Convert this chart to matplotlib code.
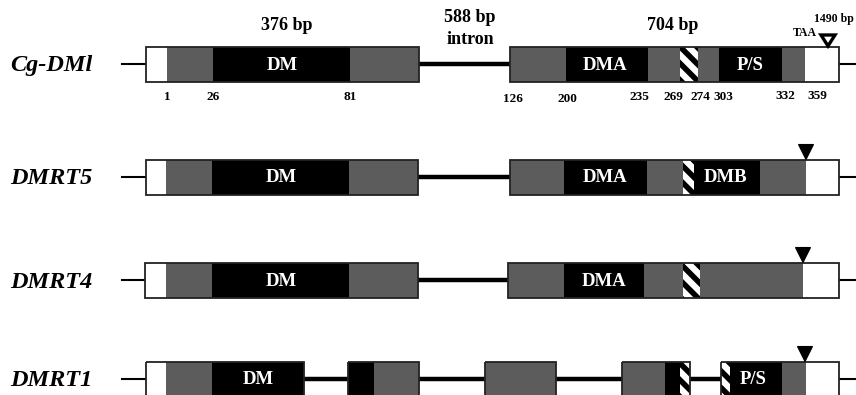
import matplotlib
matplotlib.use('Agg')
import matplotlib.pyplot as plt
from matplotlib.patches import Rectangle, Polygon

plt.rcParams['font.family'] = ['Liberation Serif', 'DejaVu Serif']
plt.rcParams['hatch.linewidth'] = 4.0

# gene rows, schematic positions (figure pixels along the gene)
genes = ['Cg-DMl', 'DMRT5', 'DMRT4', 'DMRT1']
row_y = [64, 177, 280, 379]

# segments: (start, end, kind)  kind: utr / cds / dom / hatch
segments = [
    [(146, 167, 'utr'), (167, 213, 'cds'), (213, 350, 'dom'), (350, 419, 'cds'),
     (510, 566, 'cds'), (566, 648, 'dom'), (648, 680, 'cds'), (680, 698, 'hatch'),
     (698, 719, 'cds'), (719, 782, 'dom'), (782, 805, 'cds'), (805, 839, 'utr')],
    [(146, 166, 'utr'), (166, 212, 'cds'), (212, 349, 'dom'), (349, 418, 'cds'),
     (510, 564, 'cds'), (564, 647, 'dom'), (647, 683, 'cds'), (683, 694, 'hatch'),
     (694, 760, 'dom'), (760, 806, 'cds'), (806, 839, 'utr')],
    [(145, 166, 'utr'), (166, 212, 'cds'), (212, 349, 'dom'), (349, 418, 'cds'),
     (508, 564, 'cds'), (564, 644, 'dom'), (644, 683, 'cds'), (683, 700, 'hatch'),
     (700, 803, 'cds'), (803, 839, 'utr')],
    [(146, 166, 'utr'), (166, 212, 'cds'), (212, 304, 'dom'),
     (348, 374, 'dom'), (374, 419, 'cds'),
     (485, 556, 'cds'),
     (622, 665, 'cds'), (665, 680, 'dom'), (680, 690, 'hatch'),
     (721, 730, 'hatch'), (730, 782, 'dom'), (782, 806, 'cds'), (806, 839, 'utr')],
]
exons = [
    [(146, 419), (510, 839)],
    [(146, 418), (510, 839)],
    [(145, 418), (508, 839)],
    [(146, 304), (348, 419), (485, 556), (622, 690), (721, 839)],
]
introns = [
    [(419, 510)],
    [(418, 510)],
    [(418, 508)],
    [(304, 348), (419, 485), (556, 622), (690, 721)],
]
flank_left = (122, 146)
flank_right = (839, 856)

# domain labels: (row, x, text)
domain_labels = [
    (0, 282, 'DM'), (0, 605, 'DMA'), (0, 750, 'P/S'),
    (1, 281, 'DM'), (1, 605, 'DMA'), (1, 726, 'DMB'),
    (2, 281, 'DM'), (2, 604, 'DMA'),
    (3, 258, 'DM'), (3, 753, 'P/S'),
]

# stop codon markers
stop_x = [828, 806, 803, 805]
stop_filled = [False, True, True, True]

# amino-acid positions under Cg-DMl
aa_pos = ['1', '26', '81', '126', '200', '235', '269', '274', '303', '332', '359']
aa_x = [167, 213, 350, 513, 567, 639, 673, 700, 723, 785, 817]
aa_y = [97, 97, 97, 99, 99, 97, 97, 97, 97, 96, 96]

colors = {'utr': 'white', 'cds': '#5c5c5c', 'dom': 'black', 'hatch': 'white'}
box_h = 35

fig = plt.figure(figsize=(8.56, 3.95), dpi=100)
ax = fig.add_axes([0, 0, 1, 1])
ax.set_xlim(0, 856)
ax.set_ylim(395, 0)
ax.axis('off')

for i, g in enumerate(genes):
    y = row_y[i]
    ax.text(51, y + 2, g, ha='center', va='center', fontsize=17.5,
            fontweight='bold', fontstyle='italic')
    ax.plot(flank_left, [y, y], color='black', lw=1.5, zorder=1)
    ax.plot(flank_right, [y, y], color='black', lw=1.5, zorder=1)
    for x0, x1 in introns[i]:
        ax.plot([x0, x1], [y, y], color='black', lw=3.2, zorder=1)
    for x0, x1, kind in segments[i]:
        if kind == 'hatch':
            r = Rectangle((x0, y - box_h / 2), x1 - x0, box_h, facecolor='white',
                          edgecolor='black', hatch='\\\\', lw=0, zorder=2)
        else:
            r = Rectangle((x0, y - box_h / 2), x1 - x0, box_h,
                          facecolor=colors[kind], edgecolor='none', zorder=2)
        ax.add_patch(r)
    for x0, x1 in exons[i]:
        ax.add_patch(Rectangle((x0, y - box_h / 2), x1 - x0, box_h, fill=False,
                               edgecolor='#222222', lw=1.3, zorder=3))

    # stop codon triangle
    sx = stop_x[i]
    top = y - box_h / 2
    if stop_filled[i]:
        ax.add_patch(Polygon([(sx - 7.5, top - 15), (sx + 7.5, top - 15), (sx, top)],
                             closed=True, facecolor='black', edgecolor='black',
                             lw=0.8, zorder=4))
    else:
        ax.add_patch(Polygon([(sx - 7, 35), (sx + 7, 35), (sx, 46)],
                             closed=True, facecolor='white', edgecolor='black',
                             lw=2.4, zorder=4))

for r, x, t in domain_labels:
    ax.text(x, row_y[r] + 1, t, ha='center', va='center', color='white',
            fontsize=13.5, fontweight='bold', zorder=5)

for t, x, y in zip(aa_pos, aa_x, aa_y):
    ax.text(x, y, t, ha='center', va='center', fontsize=9.5, fontweight='bold')

# headers
ax.text(287, 25, '376 bp', ha='center', va='center', fontsize=13, fontweight='bold')
ax.text(470, 18, '588 bp', ha='center', va='center', fontsize=13, fontweight='bold')
ax.text(470, 39, 'intron', ha='center', va='center', fontsize=13, fontweight='bold')
ax.text(673, 26, '704 bp', ha='center', va='center', fontsize=13, fontweight='bold')
ax.text(834, 19, '1490 bp', ha='center', va='center', fontsize=8.5, fontweight='bold')
ax.text(805, 33, 'TAA', ha='center', va='center', fontsize=8.5, fontweight='bold')

fig.savefig('out.png', dpi=100)
